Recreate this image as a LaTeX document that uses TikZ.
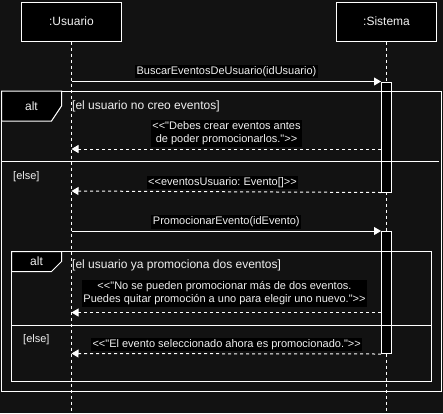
\documentclass[tikz,border=0pt]{standalone}
\usepackage{fontspec}
\setmainfont{Liberation Sans}[Ligatures=TeXOff]
\usetikzlibrary{arrows.meta}
\definecolor{bgc}{HTML}{121212}
\definecolor{fg}{HTML}{F0F0F0}
\begin{document}
\begin{tikzpicture}[x=1pt,y=-1pt,
  font=\fontsize{11}{13.5}\selectfont\frenchspacing,
  every node/.style={text=fg},
  big/.style={font=\fontsize{12}{14}\selectfont\frenchspacing},
  lifebox/.style={draw=white,fill=black,line width=1pt,minimum width=100pt,minimum height=39pt,inner sep=0pt,big},
  lifeln/.style={draw=white,line width=1pt,dash pattern=on 3pt off 3pt},
  actbar/.style={draw=white,fill=black,line width=1pt,minimum width=10pt,inner sep=0pt},
  msg/.style={draw=white,line width=1pt,-{Triangle[length=7pt,width=8pt]}},
  ret/.style={draw=white,line width=1pt,dash pattern=on 3pt off 3pt,-{Triangle[length=7pt,width=8pt]}},
  lbl/.style={fill=black,inner sep=1.5pt,align=center},
  guard/.style={anchor=west,inner sep=0pt,big},
  elsetxt/.style={anchor=west,inner sep=0pt},
  frameln/.style={draw=white,line width=1pt},
  tabtxt/.style={inner sep=0pt,big}]
\useasboundingbox (0,0) rectangle (443,413);
\fill[bgc] (0,0) rectangle (443,413);

% lifeline heads
\node[lifebox] (u) at (71.5,21.5) {:Usuario};
\node[lifebox] (s) at (386.5,21.5) {:Sistema};
\coordinate (uend) at (71.5,413);
\coordinate (send) at (386.5,413);
\draw[lifeln] (u.south) -- (uend);
\draw[lifeln] (s.south) -- (send);

% activation bars
\node[actbar,minimum height=110pt,anchor=north] (a1) at (386.5,81.5) {};
\node[actbar,minimum height=122pt,anchor=north] (a2) at (386.5,231) {};

% lifeline anchor coordinates on Usuario
\coordinate (u1) at (71.5,81.5);
\coordinate (u2) at (71.5,149);
\coordinate (u3) at (71.5,191);
\coordinate (u4) at (71.5,231);
\coordinate (u5) at (71.5,312.5);
\coordinate (u6) at (71.5,353.5);

% messages
\draw[msg] (u1) -- (u1 -| a1.west);
\node[lbl] (m1) at (226.5,71.5) {BuscarEventosDeUsuario(idUsuario)};
\draw[ret] (u2 -| a1.west) -- (u2);
\node[lbl] (r1) at (226.5,133.3) {<<"Debes crear eventos antes\\de poder promocionarlos.">>};
\draw[ret] (a1.south west) -- (u3);
\node[lbl] (r2) at (222.5,182.8) {<<eventosUsuario: Evento[]>>};
\draw[msg] (u4) -- (a2.north west);
\node[lbl] (m2) at (226.3,222) {PromocionarEvento(idEvento)};
\draw[ret] (u5 -| a2.west) -- (u5);
\node[lbl] (r3) at (224.5,293.3) {<<"No se pueden promocionar más de dos eventos.\\Puedes quitar promoción a uno para elegir uno nuevo.">>};
\draw[ret] (a2.south west) -- (u6);
\node[lbl] (r4) at (226.7,344.8) {<<"El evento seleccionado ahora es promocionado.">>};

% outer alt frame
\draw[frameln] (1.5,91) rectangle (441.5,391);
\draw[frameln,fill=black] (1.5,91) -- (61.5,91) -- (61.5,106) -- (51.5,121) -- (1.5,121) -- cycle;
\node[tabtxt] (t1) at (31.5,106) {alt};
\draw[frameln] (1.5,161.5) -- (439,161.5);
\node[guard] (g1) at (72,106.5) {[el usuario no creo eventos]};
\node[elsetxt] (e1) at (13,176.5) {[else]};

% inner alt frame
\draw[frameln] (11.5,251.5) rectangle (431.5,381);
\draw[frameln,fill=black] (11.5,251.5) -- (61.5,251.5) -- (61.5,261.5) -- (51.5,271.5) -- (11.5,271.5) -- cycle;
\node[tabtxt] (t2) at (36.5,261.5) {alt};
\draw[frameln] (11.5,325.5) -- (431.5,325.5);
\node[guard] (g2) at (72,265.8) {[el usuario ya promociona dos eventos]};
\node[elsetxt] (e2) at (23,339.7) {[else]};
\end{tikzpicture}
\end{document}
